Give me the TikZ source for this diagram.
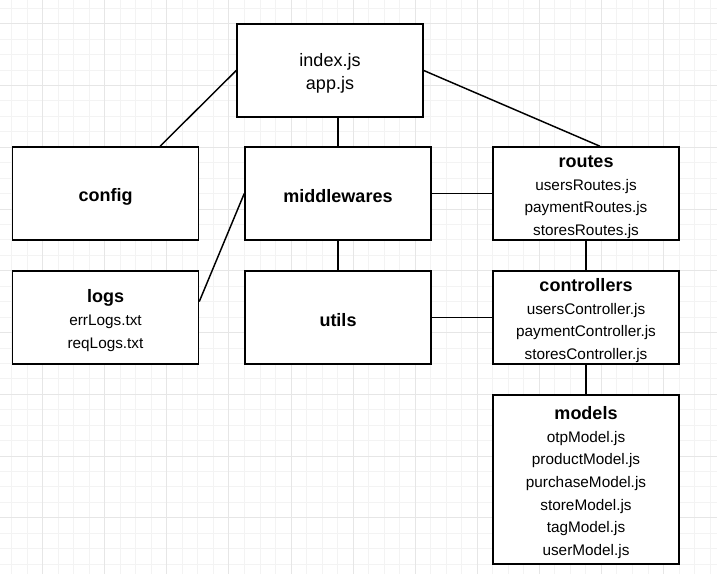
\documentclass[tikz,border=0pt]{standalone}
\usepackage{fontspec}
\setmainfont{Liberation Sans}
\definecolor{gridminor}{HTML}{F3F3F3}
\definecolor{gridmajor}{HTML}{E6E6E6}
\newcommand{\filefont}{\fontsize{11.5}{17}\selectfont}
\newcommand{\topstrut}{\rule{0pt}{14.3pt}}
\newcommand{\dirtitle}[1]{{\fontsize{13.5}{17}\selectfont\bfseries\topstrut #1}}
\tikzstyle{folder}=[draw, fill=white, line width=1.1pt, minimum width=139.5pt, minimum height=69.75pt, inner sep=0pt, align=center, font=\filefont]
\tikzstyle{link}=[line width=1.1pt]

\begin{document}
\begin{tikzpicture}[x=0.75pt, y=-0.75pt]
\useasboundingbox (0,0) rectangle (717,574);
% Grid
    \foreach \gx in {0,...,45} \draw[gridminor, line width=0.75pt] ({11.7+15.52*\gx},0) -- ++(0,574);
    \foreach \gy in {0,...,36} \draw[gridminor, line width=0.75pt] (0,{8.34+15.44*\gy}) -- ++(717,0);
    \foreach \gx in {2,6,...,46} \draw[gridmajor, line width=0.75pt] ({11.7+15.52*\gx},0) -- ++(0,574);
    \foreach \gy in {1,5,...,33} \draw[gridmajor, line width=0.75pt] (0,{8.34+15.44*\gy}) -- ++(717,0);
% Folders
    \node[folder, font=\fontsize{13.5}{17}\selectfont] (index) at (330,70.5) {\topstrut index.js\\app.js};
    \node[folder] (config) at (105.5,193.5) {\dirtitle{config}};
    \node[folder] (middlewares) at (338,193.5) {\dirtitle{middlewares}};
    \node[folder] (routes) at (586,193.5) {\dirtitle{routes}\\usersRoutes.js\\paymentRoutes.js\\storesRoutes.js};
    \node[folder] (logs) at (105.5,317.5) {\dirtitle{logs}\\errLogs.txt\\reqLogs.txt};
    \node[folder] (utils) at (338,317.5) {\dirtitle{utils}};
    \node[folder] (controllers) at (586,317.5) {\dirtitle{controllers}\\usersController.js\\paymentController.js\\storesController.js};
    \node[folder, minimum height=126.75pt] (models) at (586,479.5) {\dirtitle{models}\\otpModel.js\\productModel.js\\purchaseModel.js\\storeModel.js\\tagModel.js\\userModel.js};
% Links
    \draw[link] (index.west) -- ([xshift=40.9pt]config.north);
    \draw[link] (middlewares.north) -- (middlewares.north |- index.south);
    \draw[link] (index.east) -- ([xshift=10.5pt]routes.north);
    \draw[link] (middlewares.east) -- (routes.west);
    \draw[link] (middlewares.west) -- ([yshift=11.9pt]logs.east);
    \draw[link] (middlewares.south) -- (utils.north);
    \draw[link] (utils.east) -- (controllers.west);
    \draw[link] (routes.south) -- (controllers.north);
    \draw[link] (controllers.south) -- (models.north);
\end{tikzpicture}
\end{document}
